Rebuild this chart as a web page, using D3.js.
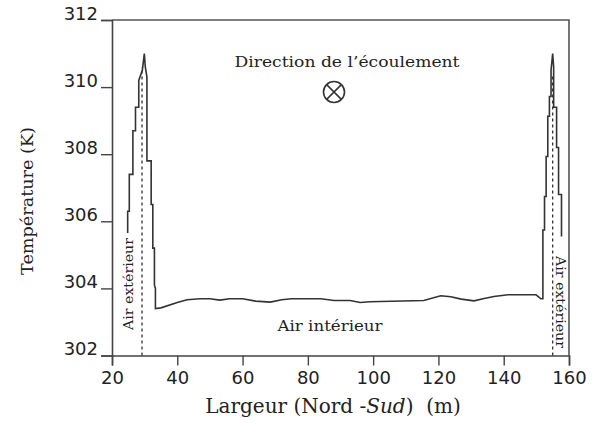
<!DOCTYPE html>
<html>
<head>
<meta charset="utf-8">
<script src="https://cdn.jsdelivr.net/npm/d3@7"></script>
<style>
  body { margin: 0; background: #fff; }
  svg text { fill: #222; }
</style>
</head>
<body>
<div id="chart"></div>
<script>
// profile of temperature across the width
var largeur = [24.8, 24.8, 25.3, 25.3, 26.4, 26.4, 27.2, 27.2, 28.2, 28.2, 29.3, 29.9,
  30.2, 30.7, 30.7, 32.0, 32.0, 32.5, 32.5, 33.0, 33.0, 33.3, 33.3,
  35, 40, 43, 47, 50, 53, 56, 60, 64, 68.5, 72, 75, 84, 88, 93, 96, 99, 115.5, 120.7,
  123.8, 127, 130.9, 134, 137, 141.3, 149.9, 151.4, 152.0,
  152.0, 152.5, 152.5, 153.0, 153.0, 153.5, 153.5, 154.0, 154.0, 154.5, 154.5, 155.0,
  155.3, 155.3, 156.2, 156.2, 156.8, 156.8, 157.7, 157.7];
var temperature = [305.65, 306.3, 306.3, 307.4, 307.4, 308.7, 308.7, 309.4, 309.4, 310.2, 310.5, 311.0,
  310.6, 310.3, 307.8, 307.8, 306.5, 306.5, 305.2, 305.2, 304.1, 304.0, 303.4,
  303.42, 303.58, 303.66, 303.69, 303.69, 303.65, 303.69, 303.69, 303.62, 303.59, 303.66, 303.69, 303.69, 303.64, 303.64, 303.58, 303.6, 303.64, 303.78,
  303.75, 303.68, 303.63, 303.7, 303.76, 303.81, 303.81, 303.69, 303.69,
  305.74, 305.74, 306.74, 306.74, 307.93, 307.93, 309.13, 309.13, 309.72, 309.72, 310.5, 311.0,
  310.6, 309.4, 309.4, 308.2, 308.2, 306.8, 306.8, 305.55];

// dashed walls (x position, top temperature)
var parois = [29.2, 155.0];
var paroisTop = [310.6, 310.4];

var xTicks = [20, 40, 60, 80, 100, 120, 140, 160];
var yTicks = [302, 304, 306, 308, 310, 312];

var width = 598, height = 423;
var margin = {top: 20, right: 29, bottom: 67.5, left: 112};

var svg = d3.select("#chart").append("svg")
    .attr("width", width)
    .attr("height", height);

var x = d3.scaleLinear().domain([20, 160]).range([margin.left, width - margin.right]);
var y = d3.scaleLinear().domain([302, 312]).range([height - margin.bottom, margin.top]);

var serif = "'DejaVu Serif', serif";
var sans = "'DejaVu Sans', sans-serif";

// frame (top and right)
svg.append("path")
    .attr("d", "M" + x(20) + "," + y(312) + "H" + x(160) + "V" + y(302))
    .attr("fill", "none")
    .attr("stroke", "#555")
    .attr("stroke-width", 1.6);

// axes
var xAxis = svg.append("g")
    .attr("transform", "translate(0," + y(302) + ")")
    .call(d3.axisBottom(x).tickValues(xTicks).tickSize(10).tickPadding(6).tickFormat(d3.format("d")));
var yAxis = svg.append("g")
    .attr("transform", "translate(" + x(20) + ",0)")
    .call(d3.axisLeft(y).tickValues(yTicks).tickSize(11).tickPadding(3).tickFormat(d3.format("d")));

[xAxis, yAxis].forEach(function(g) {
  g.select(".domain").attr("stroke", "#444").attr("stroke-width", 1.6);
  g.selectAll(".tick line").attr("stroke", "#444").attr("stroke-width", 1.4);
  g.selectAll(".tick text")
    .style("font-family", sans)
    .style("font-size", "18px")
    .attr("fill", "#333");
});
yAxis.selectAll(".tick text").attr("dy", "-0.05em");

// dashed walls
svg.append("g").selectAll("line")
    .data(parois)
    .enter().append("line")
    .attr("x1", d => x(d)).attr("x2", d => x(d))
    .attr("y1", y(302))
    .attr("y2", (d, i) => y(paroisTop[i]))
    .attr("stroke", "#333")
    .attr("stroke-width", 1.3)
    .attr("stroke-dasharray", "3,3");

// temperature profile
var pts = largeur.map((d, i) => [d, temperature[i]]);
svg.append("path")
    .datum(pts)
    .attr("fill", "none")
    .attr("stroke", "#333")
    .attr("stroke-width", 1.6)
    .attr("d", d3.line().x(d => x(d[0])).y(d => y(d[1])));

// annotations
svg.append("text")
    .attr("x", 347).attr("y", 67)
    .attr("text-anchor", "middle")
    .attr("textLength", 225).attr("lengthAdjust", "spacingAndGlyphs")
    .style("font-family", serif).style("font-size", "15.5px")
    .text("Direction de l\u2019écoulement");

var cx = 334, cy = 92, r = 10.5;
svg.append("circle")
    .attr("cx", cx).attr("cy", cy).attr("r", r)
    .attr("fill", "none").attr("stroke", "#333").attr("stroke-width", 1.6);
svg.append("path")
    .attr("d", "M" + (cx - r * 0.7) + "," + (cy - r * 0.7) + "L" + (cx + r * 0.7) + "," + (cy + r * 0.7) +
               "M" + (cx + r * 0.7) + "," + (cy - r * 0.7) + "L" + (cx - r * 0.7) + "," + (cy + r * 0.7))
    .attr("stroke", "#333").attr("stroke-width", 1.5);

svg.append("text")
    .attr("x", 330).attr("y", 331)
    .attr("text-anchor", "middle")
    .attr("textLength", 105).attr("lengthAdjust", "spacingAndGlyphs")
    .style("font-family", serif).style("font-size", "15px")
    .text("Air intérieur");

svg.append("text")
    .attr("transform", "translate(133,284) rotate(-90)")
    .attr("text-anchor", "middle")
    .attr("textLength", 92).attr("lengthAdjust", "spacingAndGlyphs")
    .style("font-family", serif).style("font-size", "13px")
    .text("Air extérieur");

svg.append("text")
    .attr("transform", "translate(556,302) rotate(90)")
    .attr("text-anchor", "middle")
    .attr("textLength", 92).attr("lengthAdjust", "spacingAndGlyphs")
    .style("font-family", serif).style("font-size", "13px")
    .text("Air extérieur");

// axis titles
svg.append("text")
    .attr("transform", "translate(33,201) rotate(-90)")
    .attr("text-anchor", "middle")
    .attr("textLength", 148).attr("lengthAdjust", "spacingAndGlyphs")
    .style("font-family", serif).style("font-size", "17px")
    .text("Température (K)");

var xt = svg.append("text")
    .attr("x", 333).attr("y", 413)
    .attr("text-anchor", "middle")
    .attr("xml:space", "preserve")
    .style("font-family", serif).style("font-size", "20px");
xt.append("tspan").text("Largeur (Nord -");
xt.append("tspan").style("font-style", "italic").text("Sud");
xt.append("tspan").text(")  (m)");
</script>
</body>
</html>
